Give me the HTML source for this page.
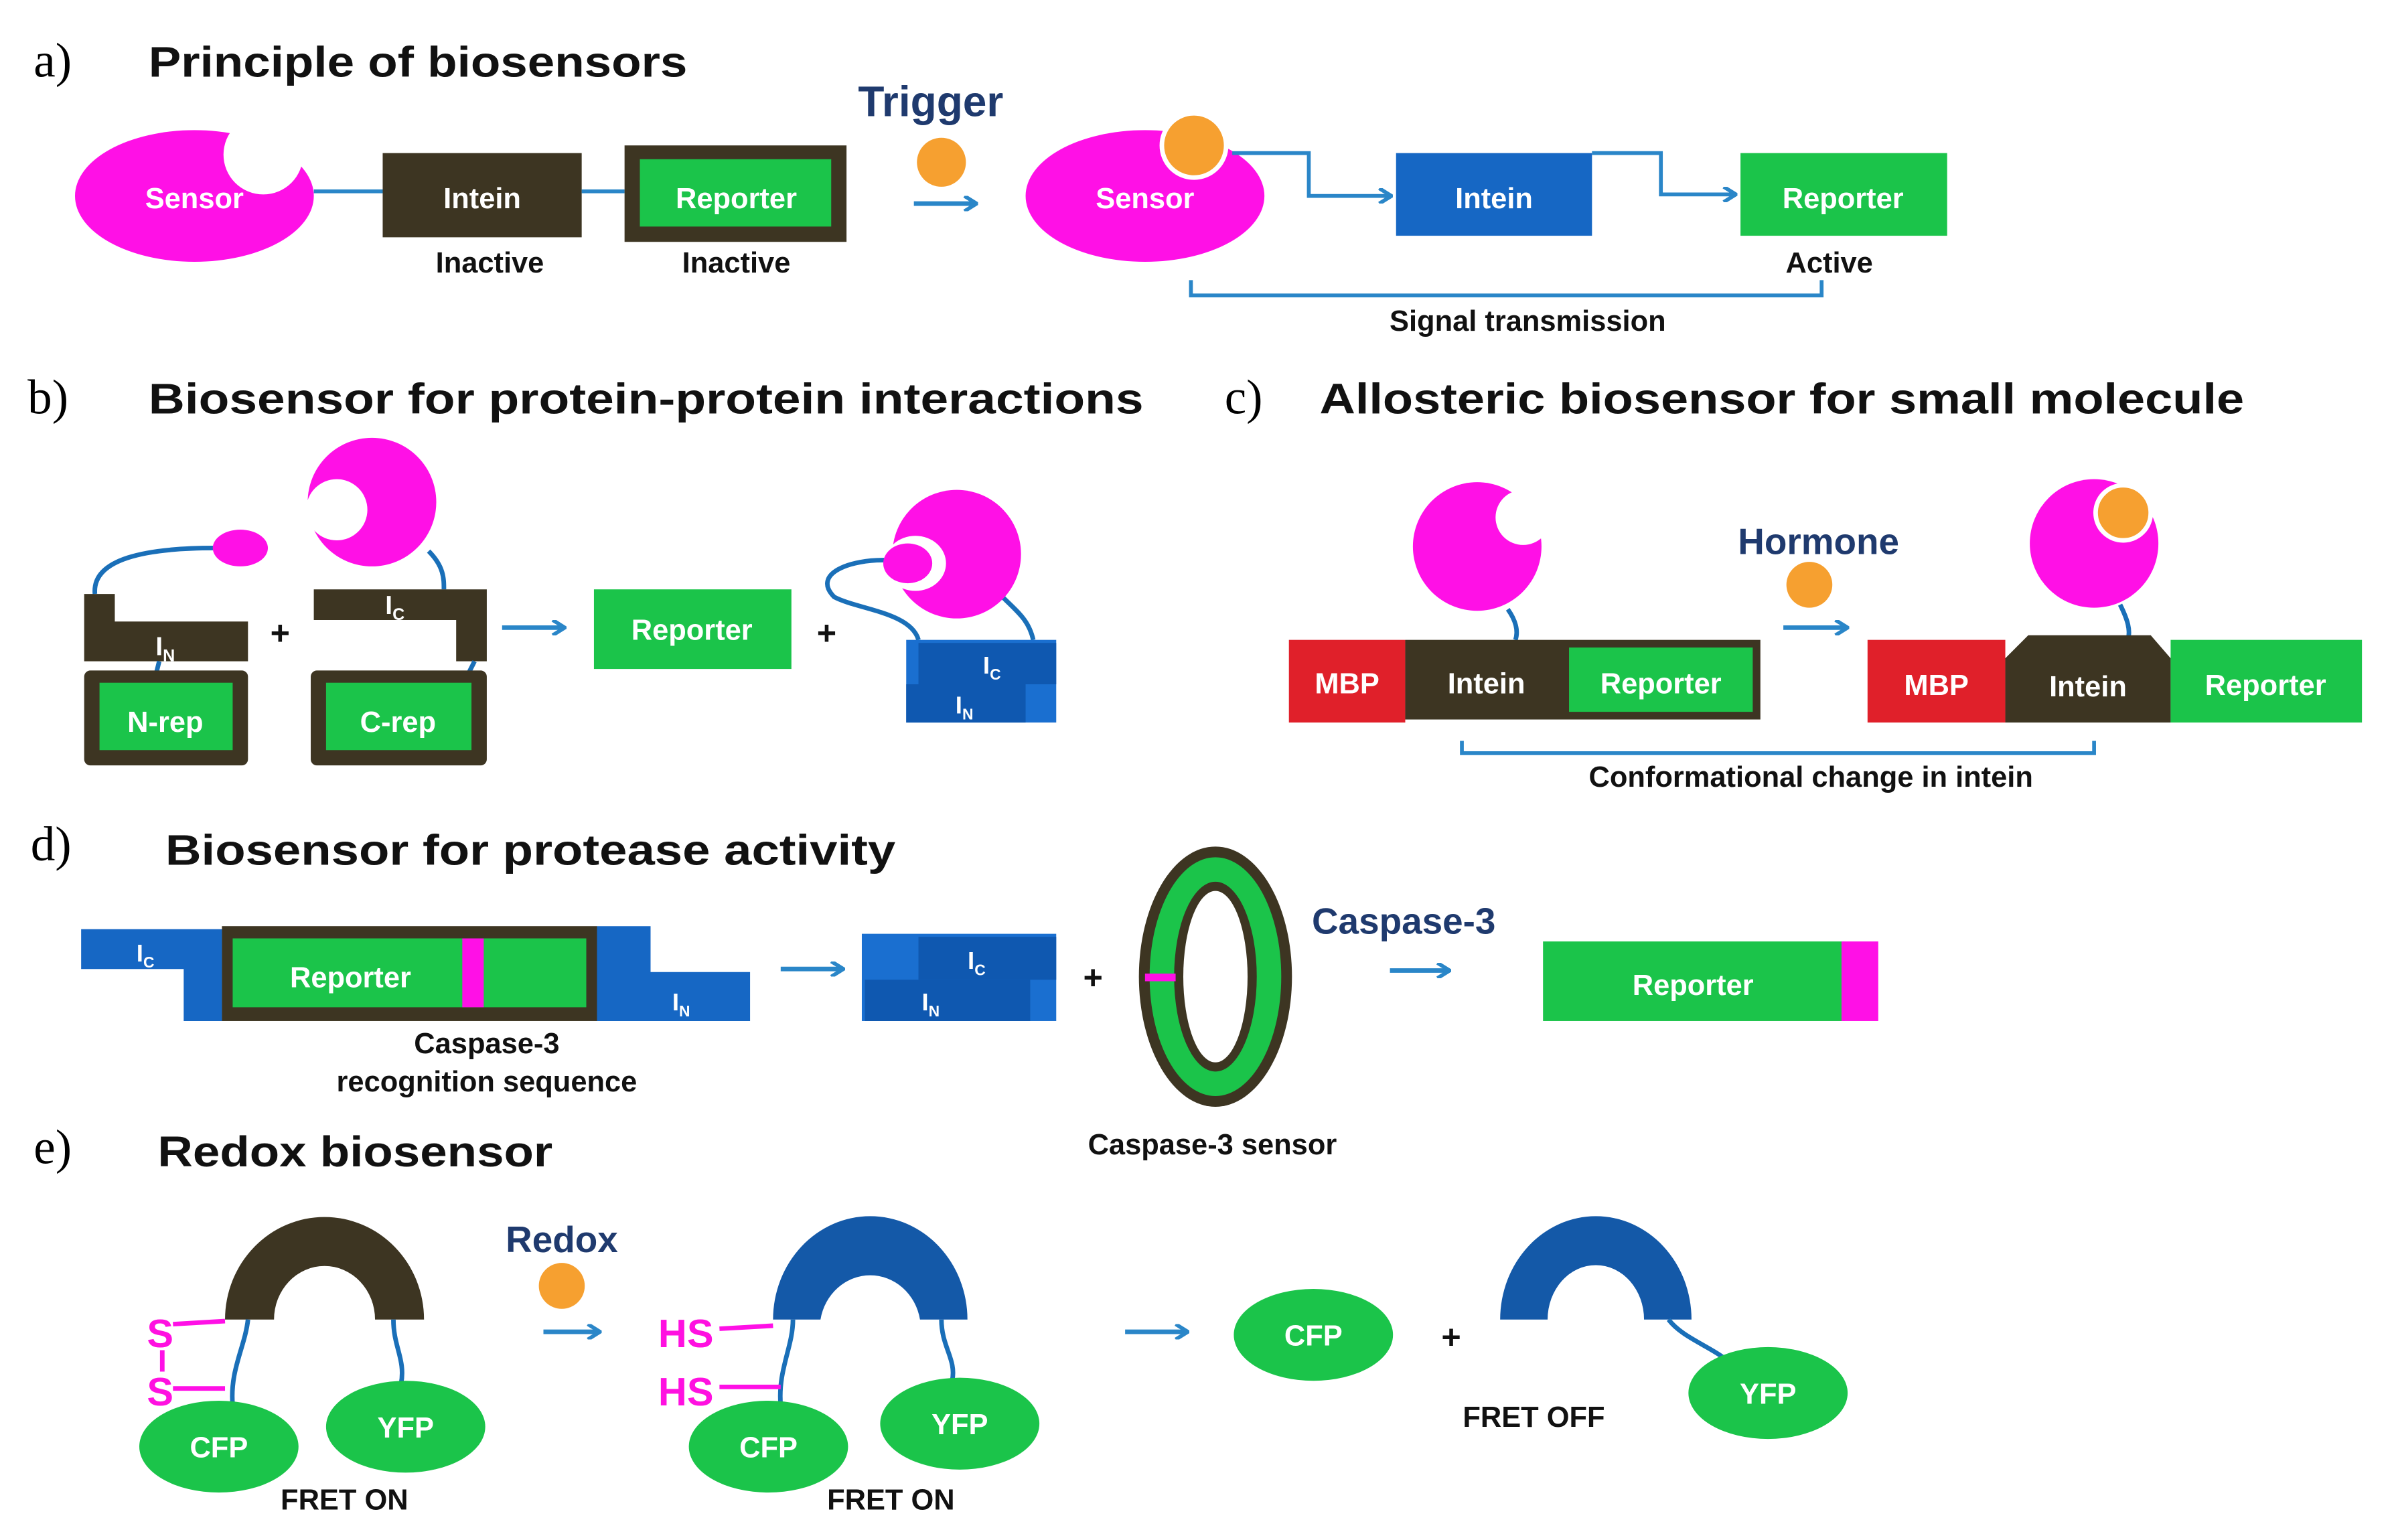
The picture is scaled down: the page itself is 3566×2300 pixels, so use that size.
<!DOCTYPE html>
<html><head><meta charset="utf-8"><style>
html,body{margin:0;padding:0;background:#fff;}
svg{display:block;}
text{font-family:"Liberation Sans",sans-serif;}
.t{font-weight:bold;font-size:28px;fill:#111;}
.lab{font-family:"Liberation Serif",serif;font-size:32px;fill:#000;}
.w{font-weight:bold;font-size:19px;fill:#fff;text-anchor:middle;}
.k{font-weight:bold;font-size:19px;fill:#111;text-anchor:middle;}
.db{font-weight:bold;font-size:24px;fill:#1f3a6e;text-anchor:middle;}
.mg{font-weight:bold;font-size:26px;fill:#ff10e0;}
</style></head><body>
<svg width="3566" height="2300" viewBox="0 0 1560 1006" preserveAspectRatio="none" xmlns="http://www.w3.org/2000/svg">
<defs>
<marker id="ar" markerWidth="10" markerHeight="10" refX="8" refY="5" orient="auto" markerUnits="userSpaceOnUse">
<path d="M1,0 L9,5 L1,10" fill="none" stroke="#2a86c8" stroke-width="2.5"/></marker>
</defs>
<g stroke-linecap="butt">
<!-- a -->
<text x="22" y="50" class="lab">a)</text>
<text x="97" y="50" class="t" textLength="352" lengthAdjust="spacingAndGlyphs">Principle of biosensors</text>
<ellipse cx="127" cy="128" rx="78" ry="43" fill="#ff10e6"/>
<circle cx="172" cy="101" r="26" fill="#fff"/>
<text x="127" y="136" class="w">Sensor</text>
<line x1="205" y1="125" x2="250" y2="125" stroke="#2a86c8" stroke-width="2.5"/>
<rect x="250" y="100" width="130" height="55" fill="#3d3522"/>
<text x="315" y="136" class="w">Intein</text>
<line x1="380" y1="125" x2="408" y2="125" stroke="#2a86c8" stroke-width="2.5"/>
<rect x="408" y="95" width="145" height="63" fill="#3d3522"/>
<rect x="418" y="104" width="125" height="44" fill="#1bc44a"/>
<text x="481" y="136" class="w">Reporter</text>
<text x="320" y="178" class="k">Inactive</text>
<text x="481" y="178" class="k">Inactive</text>
<text x="608" y="76" class="db" style="font-size:28px">Trigger</text>
<circle cx="615" cy="106" r="16" fill="#f6a030"/>
<line x1="597" y1="133" x2="637" y2="133" stroke="#2a86c8" stroke-width="3" marker-end="url(#ar)"/>
<ellipse cx="748" cy="128" rx="78" ry="43" fill="#ff10e6"/>
<circle cx="780" cy="95" r="21" fill="#f6a030" stroke="#fff" stroke-width="3"/>
<text x="748" y="136" class="w">Sensor</text>
<polyline points="805,100 855,100 855,128 908,128" fill="none" stroke="#2a86c8" stroke-width="2.5" marker-end="url(#ar)"/>
<rect x="912" y="100" width="128" height="54" fill="#1667c4"/>
<text x="976" y="136" class="w">Intein</text>
<polyline points="1040,100 1085,100 1085,127 1133,127" fill="none" stroke="#2a86c8" stroke-width="2.5" marker-end="url(#ar)"/>
<rect x="1137" y="100" width="135" height="54" fill="#1bc44a"/>
<text x="1204" y="136" class="w">Reporter</text>
<text x="1195" y="178" class="k">Active</text>
<polyline points="778,183 778,193 1190,193 1190,183" fill="none" stroke="#2a86c8" stroke-width="2.5"/>
<text x="998" y="216" class="k">Signal transmission</text>

<!-- b -->
<text x="18" y="270" class="lab">b)</text>
<text x="97" y="270" class="t" textLength="650" lengthAdjust="spacingAndGlyphs">Biosensor for protein-protein interactions</text>
<path d="M62,388 C60,365 95,358 140,358" fill="none" stroke="#1a6fb8" stroke-width="3"/>
<ellipse cx="157" cy="358" rx="18" ry="12" fill="#ff10e6"/>
<circle cx="243" cy="328" r="42" fill="#ff10e6"/>
<circle cx="220" cy="333" r="20" fill="#fff"/>
<path d="M280,360 C290,370 290,378 290,385" fill="none" stroke="#1a6fb8" stroke-width="3"/>
<path d="M55,388 L75,388 L75,406 L162,406 L162,432 L55,432 Z" fill="#3d3522"/>
<text x="108" y="428" class="w" style="font-size:17px">I<tspan font-size="11" dy="4">N</tspan></text>
<path d="M205,385 L318,385 L318,432 L298,432 L298,405 L205,405 Z" fill="#3d3522"/>
<text x="258" y="401" class="w" style="font-size:17px">I<tspan font-size="11" dy="4">C</tspan></text>
<line x1="104" y1="432" x2="102" y2="440" stroke="#1a6fb8" stroke-width="3"/>
<line x1="310" y1="432" x2="306" y2="440" stroke="#1a6fb8" stroke-width="3"/>
<rect x="55" y="438" width="107" height="62" rx="4" fill="#3d3522"/>
<rect x="65" y="446" width="87" height="44" fill="#1bc44a"/>
<text x="108" y="478" class="w">N-rep</text>
<rect x="203" y="438" width="115" height="62" rx="4" fill="#3d3522"/>
<rect x="213" y="446" width="95" height="44" fill="#1bc44a"/>
<text x="260" y="478" class="w">C-rep</text>
<text x="183" y="421" class="k" style="font-size:22px">+</text>
<line x1="328" y1="410" x2="368" y2="410" stroke="#2a86c8" stroke-width="3" marker-end="url(#ar)"/>
<rect x="388" y="385" width="129" height="52" fill="#1bc44a"/>
<text x="452" y="418" class="w">Reporter</text>
<text x="540" y="421" class="k" style="font-size:22px">+</text>
<path d="M600,418 C595,400 560,398 545,390 C530,375 555,365 580,366" fill="none" stroke="#1a6fb8" stroke-width="3"/>
<path d="M655,390 C665,400 672,405 675,418" fill="none" stroke="#1a6fb8" stroke-width="3"/>
<circle cx="625" cy="362" r="42" fill="#ff10e6"/>
<ellipse cx="598" cy="368" rx="20" ry="18" fill="#fff"/>
<ellipse cx="593" cy="368" rx="16" ry="13" fill="#ff10e6"/>
<rect x="592" y="418" width="98" height="54" fill="#1a6fd0"/>
<rect x="600" y="420" width="90" height="27" fill="#0f58b0"/>
<rect x="592" y="447" width="78" height="25" fill="#0f58b0"/>
<text x="648" y="440" class="w" style="font-size:16px">I<tspan font-size="10" dy="4">C</tspan></text>
<text x="630" y="466" class="w" style="font-size:16px">I<tspan font-size="10" dy="4">N</tspan></text>

<!-- c -->
<text x="800" y="270" class="lab">c)</text>
<text x="862" y="270" class="t" textLength="604" lengthAdjust="spacingAndGlyphs">Allosteric biosensor for small molecule</text>
<path d="M985,398 C990,405 992,412 990,418" fill="none" stroke="#1a6fb8" stroke-width="3"/>
<circle cx="965" cy="357" r="42" fill="#ff10e6"/>
<circle cx="995" cy="338" r="18" fill="#fff"/>
<rect x="842" y="418" width="76" height="54" fill="#e0202a"/>
<text x="880" y="453" class="w">MBP</text>
<rect x="918" y="418" width="232" height="52" fill="#3d3522"/>
<text x="971" y="453" class="w">Intein</text>
<rect x="1025" y="423" width="120" height="42" fill="#1bc44a"/>
<text x="1085" y="453" class="w">Reporter</text>
<text x="1188" y="362" class="db">Hormone</text>
<circle cx="1182" cy="382" r="15" fill="#f6a030"/>
<line x1="1165" y1="410" x2="1206" y2="410" stroke="#2a86c8" stroke-width="3" marker-end="url(#ar)"/>
<path d="M1385,395 C1390,405 1392,412 1390,418" fill="none" stroke="#1a6fb8" stroke-width="3"/>
<circle cx="1368" cy="355" r="42" fill="#ff10e6"/>
<circle cx="1387" cy="335" r="18" fill="#f6a030" stroke="#fff" stroke-width="3"/>
<rect x="1220" y="418" width="90" height="54" fill="#e0202a"/>
<text x="1265" y="454" class="w">MBP</text>
<path d="M1310,430 L1325,415 L1405,415 L1418,430 L1418,472 L1310,472 Z" fill="#3d3522"/>
<text x="1364" y="455" class="w">Intein</text>
<rect x="1418" y="418" width="125" height="54" fill="#1bc44a"/>
<text x="1480" y="454" class="w">Reporter</text>
<polyline points="955,484 955,492 1368,492 1368,484" fill="none" stroke="#2a86c8" stroke-width="2.5"/>
<text x="1183" y="514" class="k">Conformational change in intein</text>

<!-- d -->
<text x="20" y="562" class="lab">d)</text>
<text x="108" y="565" class="t" textLength="477" lengthAdjust="spacingAndGlyphs">Biosensor for protease activity</text>
<path d="M53,607 L145,607 L145,667 L120,667 L120,633 L53,633 Z" fill="#1667c4"/>
<text x="95" y="628" class="w" style="font-size:16px">I<tspan font-size="10" dy="4">C</tspan></text>
<rect x="145" y="605" width="245" height="62" fill="#3d3522"/>
<rect x="152" y="613" width="231" height="45" fill="#1bc44a"/>
<rect x="302" y="613" width="14" height="45" fill="#ff10e6"/>
<text x="229" y="645" class="w">Reporter</text>
<path d="M390,605 L425,605 L425,635 L490,635 L490,667 L390,667 Z" fill="#1667c4"/>
<text x="445" y="660" class="w" style="font-size:16px">I<tspan font-size="10" dy="4">N</tspan></text>
<text x="318" y="688" class="k">Caspase-3</text>
<text x="318" y="713" class="k">recognition sequence</text>
<line x1="510" y1="633" x2="550" y2="633" stroke="#2a86c8" stroke-width="3" marker-end="url(#ar)"/>
<rect x="563" y="610" width="127" height="57" fill="#1a6fd0"/>
<rect x="600" y="612" width="90" height="28" fill="#0f58b0"/>
<rect x="565" y="640" width="108" height="27" fill="#0f58b0"/>
<text x="638" y="633" class="w" style="font-size:16px">I<tspan font-size="10" dy="4">C</tspan></text>
<text x="608" y="660" class="w" style="font-size:16px">I<tspan font-size="10" dy="4">N</tspan></text>
<text x="714" y="646" class="k" style="font-size:22px">+</text>
<ellipse cx="794" cy="638" rx="50" ry="85" fill="#3d3522"/>
<ellipse cx="794" cy="638" rx="43" ry="78" fill="#1bc44a"/>
<ellipse cx="794" cy="638" rx="27" ry="62" fill="#3d3522"/>
<ellipse cx="794" cy="638" rx="21" ry="56" fill="#fff"/>
<rect x="748" y="636" width="20" height="5" fill="#ff10e6"/>
<text x="792" y="754" class="k">Caspase-3 sensor</text>
<text x="917" y="610" class="db">Caspase-3</text>
<line x1="908" y1="634" x2="946" y2="634" stroke="#2a86c8" stroke-width="3" marker-end="url(#ar)"/>
<rect x="1008" y="615" width="197" height="52" fill="#1bc44a"/>
<rect x="1203" y="615" width="24" height="52" fill="#ff10e6"/>
<text x="1106" y="650" class="w">Reporter</text>

<!-- e -->
<text x="22" y="760" class="lab">e)</text>
<text x="103" y="762" class="t" textLength="258" lengthAdjust="spacingAndGlyphs">Redox biosensor</text>
<path d="M147,862 A65,67 0 0 1 277,862 L245,862 A33,35 0 0 0 179,862 Z" fill="#3d3522"/>
<path d="M162,862 C160,880 150,895 152,918" fill="none" stroke="#1a6fb8" stroke-width="3"/>
<path d="M257,862 C257,880 265,888 262,904" fill="none" stroke="#1a6fb8" stroke-width="3"/>
<text x="96" y="880" class="mg">S</text>
<text x="96" y="918" class="mg">S</text>
<line x1="113" y1="865" x2="147" y2="863" stroke="#ff10e6" stroke-width="3"/>
<line x1="113" y1="907" x2="147" y2="907" stroke="#ff10e6" stroke-width="3"/>
<line x1="106" y1="882" x2="106" y2="896" stroke="#ff10e6" stroke-width="3"/>
<ellipse cx="143" cy="945" rx="52" ry="30" fill="#1bc44a"/>
<text x="143" y="952" class="w">CFP</text>
<ellipse cx="265" cy="932" rx="52" ry="30" fill="#1bc44a"/>
<text x="265" y="939" class="w">YFP</text>
<text x="225" y="986" class="k">FRET ON</text>
<text x="367" y="818" class="db">Redox</text>
<circle cx="367" cy="840" r="15" fill="#f6a030"/>
<line x1="355" y1="870" x2="391" y2="870" stroke="#2a86c8" stroke-width="3" marker-end="url(#ar)"/>
<path d="M505,862 A63,67 0 0 1 632,862 L601,862 A33,35 0 0 0 536,862 Z" fill="#1459a8"/>
<path d="M518,862 C518,880 508,895 510,918" fill="none" stroke="#1a6fb8" stroke-width="3"/>
<path d="M615,862 C615,880 625,888 622,902" fill="none" stroke="#1a6fb8" stroke-width="3"/>
<text x="430" y="880" class="mg">HS</text>
<text x="430" y="918" class="mg">HS</text>
<line x1="470" y1="868" x2="505" y2="866" stroke="#ff10e6" stroke-width="3"/>
<line x1="470" y1="906" x2="510" y2="906" stroke="#ff10e6" stroke-width="3"/>
<ellipse cx="502" cy="945" rx="52" ry="30" fill="#1bc44a"/>
<text x="502" y="952" class="w">CFP</text>
<ellipse cx="627" cy="930" rx="52" ry="30" fill="#1bc44a"/>
<text x="627" y="937" class="w">YFP</text>
<text x="582" y="986" class="k">FRET ON</text>
<line x1="735" y1="870" x2="775" y2="870" stroke="#2a86c8" stroke-width="3" marker-end="url(#ar)"/>
<ellipse cx="858" cy="872" rx="52" ry="30" fill="#1bc44a"/>
<text x="858" y="879" class="w">CFP</text>
<text x="948" y="881" class="k" style="font-size:22px">+</text>
<path d="M980,862 A62,67 0 0 1 1105,862 L1074,862 A31,35 0 0 0 1011,862 Z" fill="#1459a8"/>
<path d="M1090,862 C1100,875 1120,880 1132,892" fill="none" stroke="#1a6fb8" stroke-width="3"/>
<ellipse cx="1155" cy="910" rx="52" ry="30" fill="#1bc44a"/>
<text x="1155" y="917" class="w">YFP</text>
<text x="1002" y="932" class="k">FRET OFF</text>
</g>
</svg>
</body></html>
